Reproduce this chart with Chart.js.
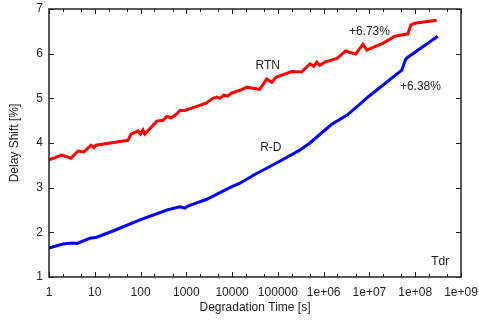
<!DOCTYPE html>
<html>
<head>
<meta charset="utf-8">
<script src="https://cdn.jsdelivr.net/npm/chart.js@4"></script>
<style>
  body { margin: 0; background: #fff; }
  #wrap { width: 479px; height: 320px; }
</style>
</head>
<body>
<div id="wrap"><canvas id="c" width="479" height="320"></canvas></div>
<script>
// RTN curve (red)
const rtnTime = [1, 1.9, 3, 4.3, 5.8, 8.3, 9.6, 10.6, 39, 53, 62, 88, 100, 113, 124, 227, 310, 378, 460, 620, 720, 930,
  2700, 3800, 4700, 5400, 6600, 8000, 9900, 1.5e4, 2.1e4, 4.0e4, 5.7e4, 7.4e4, 9.1e4, 2.0e5, 3.3e5, 5.0e5, 6.1e5,
  7.1e5, 8.2e5, 1.07e6, 2.0e6, 3.0e6, 5.0e6, 7.2e6, 8.8e6, 1.07e7, 1.96e7, 3.6e7, 6.6e7, 6.9e7, 8e7, 9.8e7, 2.95e8];
const rtnShift = [3.62, 3.73, 3.66, 3.82, 3.8, 3.95, 3.9, 3.95, 4.04, 4.06, 4.2, 4.27, 4.2, 4.29, 4.2, 4.49, 4.51, 4.6, 4.56, 4.65, 4.73, 4.73,
  4.89, 5.0, 5.03, 5.0, 5.07, 5.05, 5.12, 5.18, 5.25, 5.2, 5.43, 5.36, 5.47, 5.6, 5.59, 5.77, 5.72,
  5.81, 5.74, 5.81, 5.9, 6.06, 5.99, 6.21, 6.08, 6.12, 6.23, 6.39, 6.44, 6.44, 6.64, 6.68, 6.75];

// R-D curve (blue)
const rdTime = [1, 2.0, 3.2, 4.1, 7.9, 11, 25, 97, 380, 720, 930, 1080, 2800, 8900, 1.48e4, 3.2e4, 5.8e4, 1.23e5,
  3.0e5, 5.0e5, 1.5e6, 3.2e6, 6.2e6, 9.3e6, 5.1e7, 6.2e7, 6.9e7, 3.1e8];
const rdShift = [1.65, 1.74, 1.76, 1.75, 1.87, 1.89, 2.03, 2.28, 2.5, 2.57, 2.54, 2.59, 2.74, 3.0, 3.1, 3.3, 3.44, 3.62,
  3.84, 4.0, 4.42, 4.62, 4.87, 5.03, 5.63, 5.88, 5.92, 6.39];

// axis ticks
const xMajor = [1, 10, 100, 1000, 1e4, 1e5, 1e6, 1e7, 1e8, 1e9];
const xLabels = ['1', '10', '100', '1000', '10000', '100000', '1e+06', '1e+07', '1e+08', '1e+09'];
const yMajor = [1, 2, 3, 4, 5, 6, 7];

// text labels in the plot [text, x, y]
const notes = [
  ['RTN', 6e4, 5.74],
  ['R-D', 7e4, 3.9],
  ['+6.73%', 1.0e7, 6.5],
  ['+6.38%', 1.3e8, 5.27],
  ['Tdr', 3.5e8, 1.34]
];

const FONT = 'Liberation Sans, Arial, sans-serif';
const INK = '#222';

const pts = (xs, ys) => xs.map((x, i) => ({ x: x, y: ys[i] }));

// frame + inward ticks on all four sides, and the text notes
const framePlugin = {
  id: 'frame',
  afterDatasetsDraw(chart) {
    const ctx = chart.ctx;
    const a = chart.chartArea;
    const xs = chart.scales.x, ys = chart.scales.y;
    ctx.save();
    ctx.strokeStyle = INK;
    ctx.lineWidth = 1;
    ctx.beginPath();
    xMajor.forEach((v, i) => {
      const px = Math.round(xs.getPixelForValue(v)) + 0.5;
      ctx.moveTo(px, a.bottom); ctx.lineTo(px, a.bottom - 5);
      ctx.moveTo(px, a.top); ctx.lineTo(px, a.top + 5);
      if (i < xMajor.length - 1) {
        [2, 5].forEach(m => {
          const qx = Math.round(xs.getPixelForValue(v * m)) + 0.5;
          ctx.moveTo(qx, a.bottom); ctx.lineTo(qx, a.bottom - 3);
          ctx.moveTo(qx, a.top); ctx.lineTo(qx, a.top + 3);
        });
      }
    });
    yMajor.forEach(v => {
      const py = Math.round(ys.getPixelForValue(v)) + 0.5;
      ctx.moveTo(a.left, py); ctx.lineTo(a.left + 5, py);
      ctx.moveTo(a.right, py); ctx.lineTo(a.right - 5, py);
    });
    ctx.stroke();
    ctx.lineWidth = 1.5;
    ctx.strokeRect(a.left, a.top, a.right - a.left, a.bottom - a.top);

    ctx.fillStyle = INK;
    ctx.font = '12px ' + FONT;
    ctx.textAlign = 'center';
    ctx.textBaseline = 'middle';
    notes.forEach(n => {
      ctx.fillText(n[0], xs.getPixelForValue(n[1]), ys.getPixelForValue(n[2]));
    });
    ctx.restore();
  }
};

new Chart(document.getElementById('c'), {
  type: 'line',
  data: {
    datasets: [
      { label: 'RTN', data: pts(rtnTime, rtnShift), borderColor: '#ff0000', borderWidth: 3, pointRadius: 0, tension: 0 },
      { label: 'R-D', data: pts(rdTime, rdShift), borderColor: '#0000ff', borderWidth: 3, pointRadius: 0, tension: 0 }
    ]
  },
  options: {
    responsive: false,
    animation: false,
    layout: { padding: { top: 9, right: 18, left: 0, bottom: 0 } },
    plugins: { legend: { display: false }, tooltip: { enabled: false } },
    scales: {
      x: {
        type: 'logarithmic',
        min: 1, max: 1e9,
        afterBuildTicks: s => { s.ticks = xMajor.map(v => ({ value: v })); },
        afterFit: s => { s.height = 43; s.paddingLeft = 0; s.paddingRight = 0; },
        grid: { display: false, drawTicks: false },
        border: { display: false },
        ticks: {
          padding: 8,
          color: INK,
          font: { family: FONT, size: 12 },
          maxRotation: 0,
          autoSkip: false,
          callback: (v, i) => xLabels[i]
        },
        title: { display: true, text: 'Degradation Time [s]', color: INK, font: { family: FONT, size: 12 }, padding: { top: 0, bottom: 5 } }
      },
      y: {
        min: 1, max: 7,
        afterBuildTicks: s => { s.ticks = yMajor.map(v => ({ value: v })); },
        afterFit: s => { s.width = 49; s.paddingTop = 0; s.paddingBottom = 0; },
        grid: { display: false, drawTicks: false },
        border: { display: false },
        ticks: { padding: 6, color: INK, font: { family: FONT, size: 12 } },
        title: { display: true, text: 'Delay Shift [%]', color: INK, font: { family: FONT, size: 12 }, padding: { top: 7, bottom: 0 } }
      }
    }
  },
  plugins: [framePlugin]
});
</script>
</body>
</html>
